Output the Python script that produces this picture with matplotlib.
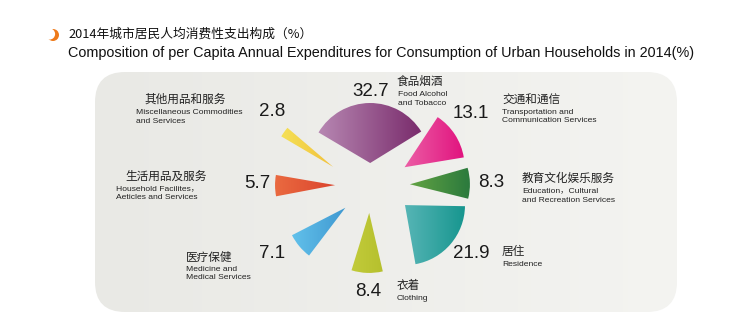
import numpy as np
import matplotlib
matplotlib.use("Agg")
import matplotlib.pyplot as plt
from matplotlib.patches import Wedge, FancyBboxPatch, Circle
from matplotlib.colors import LinearSegmentedColormap

plt.rcParams["font.family"] = ["Liberation Sans", "Noto Sans CJK SC", "DejaVu Sans"]

# data
names_cn = ["食品烟酒", "交通和通信", "教育文化娱乐服务", "居住", "衣着",
            "医疗保健", "生活用品及服务", "其他用品和服务"]
names_en = [["Food Alcohol", "and Tobacco"],
            ["Transportation and", "Communication Services"],
            ["Education，Cultural", "and Recreation Services"],
            ["Residence"],
            ["Clothing"],
            ["Medicine and", "Medical Services"],
            ["Household Facilites，", "Aeticles and Services"],
            ["Miscellaneous Commodities", "and Services"]]
values = [32.7, 13.1, 8.3, 21.9, 8.4, 7.1, 5.7, 2.8]

title_cn = "2014年城市居民人均消费性支出构成（%）"
title_en = ("Composition of per Capita Annual Expenditures for Consumption "
            "of Urban Households in 2014(%)")

# layout (pixel space, y down)
W, H = 750, 334
CENTER = (371, 187)
RADIUS = 60
mid_angle = [90.5, 33, 1, -40.5, -92, -140, 180.5, 144.5]
push = [24, 39, 39, 38.5, 26, 33, 36, 43]
push_angle = [92, 30.5, 4, -28, -94, -141, 177, 152]
colors = [("#bc8fb8", "#742466"), ("#f6a8cc", "#e1127e"),
          ("#9acb48", "#2b7a3d"), ("#96d4dc", "#17968f"),
          ("#d2da4a", "#a4b01c"), ("#66c6ee", "#1a6cb4"),
          ("#ea6a40", "#cc1e1a"), ("#f5e55a", "#ef9e1e")]

# label anchors: number (x, y), cn (x, y), en x, en line ys
num_pos = [(352, 91.5), (453, 113.5), (478, 182.5), (453, 253.5),
           (355, 291), (259, 254), (244, 183.5), (259, 112)]
cn_pos = [(397, 81), (502, 100), (522, 178), (502, 251),
          (397, 286), (186, 257), (125, 176), (144, 99)]
en_x = [398, 502, 522.5, 502.5, 397, 186.5, 116, 136]
en_y = [[94, 103.5], [112.3, 121], [190.7, 200.7], [264.5],
        [298.5], [269.3, 277.5], [189, 197.5], [112.7, 121.3]]

fig = plt.figure(figsize=(W / 100, H / 100), dpi=100)
ax = fig.add_axes([0, 0, 1, 1])
ax.set_xlim(0, W)
ax.set_ylim(H, 0)
ax.axis("off")


def gradient_fill(patch, c_light, c_dark, x0, x1, y0, y1, z):
    cmap = LinearSegmentedColormap.from_list("g", [c_light, c_dark])
    grad = np.linspace(0, 1, 256).reshape(1, -1)
    im = ax.imshow(grad, cmap=cmap, extent=(x0, x1, y1, y0),
                   aspect="auto", zorder=z, interpolation="bicubic")
    im.set_clip_path(patch)


# background card
card = FancyBboxPatch((95, 72), 582, 240,
                      boxstyle="round,pad=0,rounding_size=30",
                      facecolor="none", edgecolor="none", zorder=1)
ax.add_patch(card)
gradient_fill(card, "#e9e9e5", "#f4f4f1", 95, 677, 72, 312, 1)

# wedges
for v, mid, d, pa, (cl, cd) in zip(values, mid_angle, push, push_angle, colors):
    span = v * 3.6
    tx = CENTER[0] + d * np.cos(np.radians(pa))
    ty = CENTER[1] - d * np.sin(np.radians(pa))
    w = Wedge((tx, ty), RADIUS, -(mid + span / 2), -(mid - span / 2),
              facecolor="none", edgecolor="none", zorder=3)
    ax.add_patch(w)
    gradient_fill(w, cl, cd, tx - RADIUS, tx + RADIUS,
                  ty - RADIUS, ty + RADIUS, 3)

# labels
for v, cn, en, (nx, ny), (cx, cy), ex, eys in zip(
        values, names_cn, names_en, num_pos, cn_pos, en_x, en_y):
    ax.text(nx, ny, f"{v}", fontsize=13.5, color="#1a1a1a",
            ha="left", va="center", zorder=5)
    ax.text(cx, cy, cn, fontsize=8.4, color="#222222",
            family=["Noto Sans CJK SC"], ha="left", va="center", zorder=5)
    for line, ey in zip(en, eys):
        ax.text(ex, ey, line, fontsize=6.1, color="#222222",
                ha="left", va="center", zorder=5)

# title + icon
ax.add_patch(Circle((53, 35), 6, facecolor="#ee7a1a", edgecolor="none", zorder=5))
ax.add_patch(Circle((49.5, 34), 5.6, facecolor="white", edgecolor="none", zorder=6))
ax.text(68, 34.5, title_cn, fontsize=9.2, color="#111111",
        family=["Noto Sans CJK SC"], ha="left", va="center")
ax.text(68, 52.5, title_en, fontsize=10.4, color="#111111",
        ha="left", va="center")

ax.set_xlim(0, W)
ax.set_ylim(H, 0)
fig.savefig("out.png", dpi=100, facecolor="white")
